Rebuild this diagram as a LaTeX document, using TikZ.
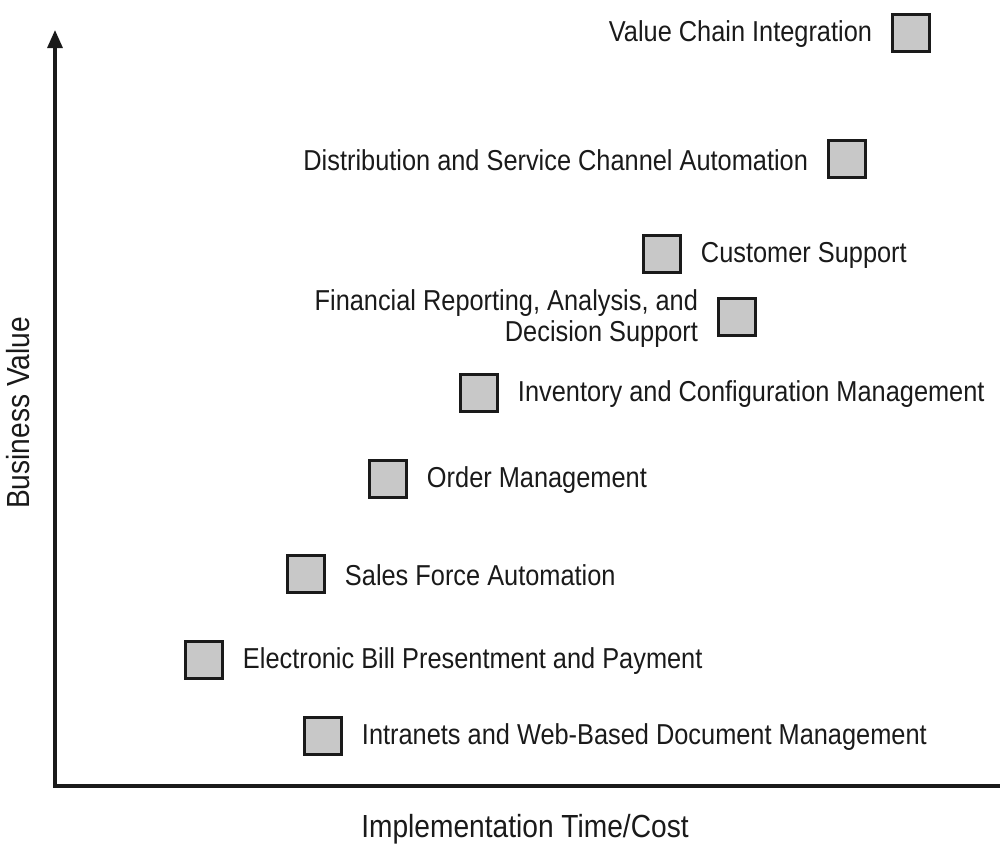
\documentclass[tikz,border=0pt]{standalone}
\usepackage{fontspec}
\setmainfont{Liberation Sans}[FakeStretch=0.88]
\usetikzlibrary{arrows.meta,positioning}
\definecolor{boxgray}{HTML}{C8C8C8}
\definecolor{ink}{HTML}{1A1A1A}
\tikzset{
  itembox/.style={draw=ink,fill=boxgray,line width=1.3pt,minimum size=0.74cm,inner sep=0pt},
  itemlabel/.style={inner sep=0pt,font=\fontsize{16.4}{17.2}\selectfont,text=ink},
  axislabel/.style={inner sep=0pt,font=\fontsize{18.2}{20}\selectfont,text=ink},
  axis/.style={ink,line width=1.8pt}
}

\begin{document}
\begin{tikzpicture}[x=0.02cm,y=-0.02cm]
      \useasboundingbox (0,0) rectangle (1000,853);
      \coordinate (o) at (55,786); \coordinate (ytop) at (55,30); \coordinate (xend) at (1000,786);
      \draw[axis,-{Triangle[length=0.36cm,width=0.3cm]}] (o) -- (ytop);
      \draw[axis,line cap=rect] (o) -- (xend);
      \foreach \i/\x/\y/\dir/\txt in {
        1/911/33/left/{Value Chain Integration},
        2/847/159/left/{Distribution and Service Channel Automation},
        3/662/254/right/{Customer Support},
        4/737/317/left/{Financial Reporting, Analysis, and\\Decision Support},
        5/479/393/right/{Inventory and Configuration Management},
        6/388/479/right/{Order Management},
        7/306/574/right/{Sales Force Automation},
        8/204/660/right/{Electronic Bill Presentment and Payment},
        9/323/736/right/{Intranets and Web-Based Document Management}}
      {
        \node[itembox] (b\i) at (\x,\y) {};
        \node[itemlabel,align=right,\dir=0.38cm of b\i,yshift=-0.03cm] (t\i) {\txt};
      }
      \node[axislabel,rotate=90] (ylab) at (18,413) {Business Value};
      \node[axislabel] (xlab) at (525,829) {Implementation Time/Cost};
    \end{tikzpicture}
\end{document}
